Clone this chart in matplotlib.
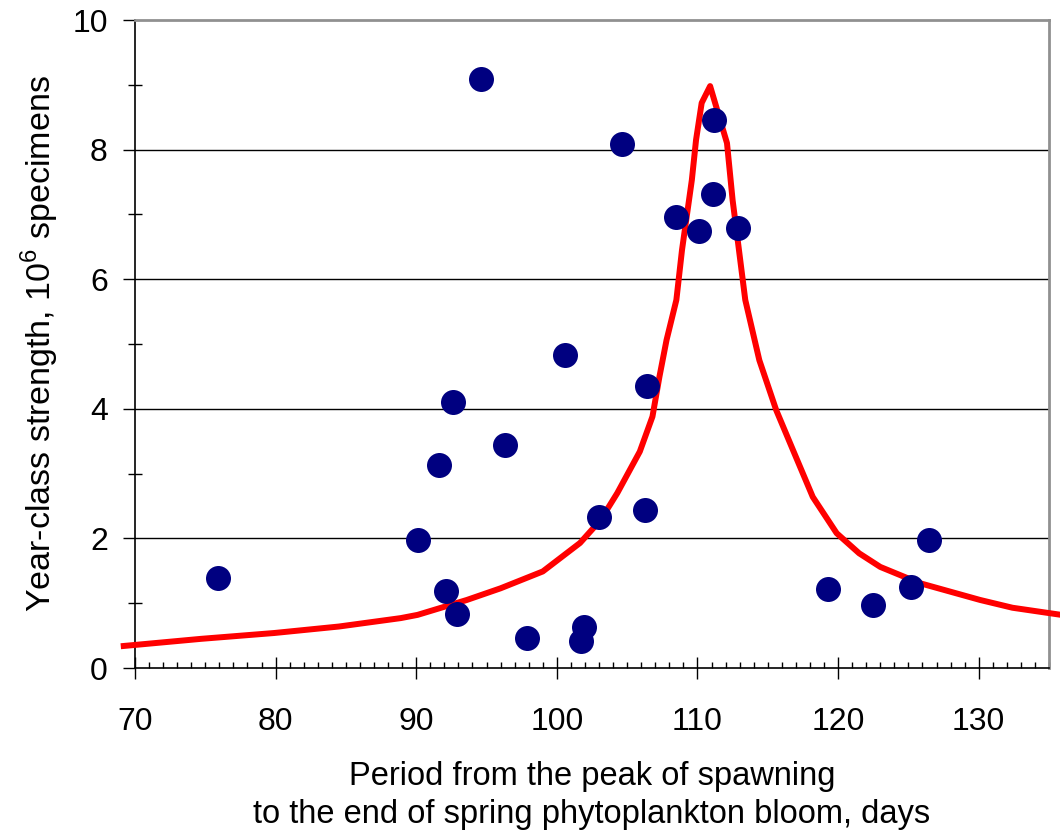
import matplotlib
matplotlib.use('Agg')
import matplotlib.pyplot as plt
from matplotlib.ticker import MultipleLocator

plt.rcParams['font.family'] = ['Liberation Sans', 'DejaVu Sans']
plt.rcParams['mathtext.fontset'] = 'custom'
plt.rcParams['mathtext.rm'] = 'Liberation Sans'

# observed year-class strength (points)
days = [75.9, 94.6, 90.1, 91.6, 92.6, 92.1, 92.9, 96.3, 97.9, 100.6, 101.7, 101.9,
        103.0, 104.6, 106.3, 106.4, 108.5, 110.1, 111.1, 111.2, 112.9, 119.3,
        122.5, 125.2, 126.5]
strength = [1.39, 9.09, 1.98, 3.13, 4.10, 1.19, 0.83, 3.44, 0.46, 4.83, 0.42, 0.63,
            2.33, 8.09, 2.44, 4.35, 6.96, 6.74, 7.31, 8.46, 6.79, 1.22,
            0.97, 1.25, 1.98]

# fitted curve
curve_x = [69.2, 74.7, 79.9, 84.5, 88.9, 90.1, 93.6, 96.0, 99.0, 101.65, 103.1, 104.3,
           105.9, 106.8, 107.3, 107.8, 108.5, 108.9, 109.6, 109.9, 110.3, 110.9,
           112.1, 112.5, 112.8, 113.4, 114.4, 115.6, 116.8, 118.2, 119.9, 121.5,
           123.0, 125.8, 130.1, 132.4, 136.5]
curve_y = [0.34, 0.45, 0.54, 0.64, 0.77, 0.82, 1.05, 1.23, 1.49, 1.93, 2.28, 2.70,
           3.34, 3.88, 4.50, 5.06, 5.68, 6.45, 7.53, 8.15, 8.72, 8.98,
           8.10, 7.22, 6.71, 5.68, 4.75, 3.98, 3.36, 2.64, 2.08, 1.77,
           1.56, 1.31, 1.05, 0.93, 0.80]

fig = plt.figure(figsize=(10.6, 8.36), dpi=100)
ax = fig.add_axes([135/1060, 168/836, (1049-135)/1060, (668-20)/836])

ax.set_xlim(70, 135)
ax.set_ylim(0, 10)

for g in [2, 4, 6, 8]:
    ax.axhline(g, color='black', lw=1, zorder=1)

ax.plot(curve_x, curve_y, color='#ff0000', lw=4.3, clip_on=False, zorder=3)
ax.plot(days, strength, 'o', color='#000080', markersize=18, markeredgewidth=0, zorder=4)

ax.xaxis.set_major_locator(MultipleLocator(10))
ax.xaxis.set_minor_locator(MultipleLocator(1))
ax.yaxis.set_major_locator(MultipleLocator(2))
ax.yaxis.set_minor_locator(MultipleLocator(1))

ax.tick_params(axis='x', which='major', direction='inout', length=16.5, width=1, labelsize=23, pad=20)
ax.tick_params(axis='x', which='minor', direction='in', length=4.3, width=1)
ax.tick_params(axis='y', which='major', direction='out', length=8.6, width=1, labelsize=23, pad=11)
ax.tick_params(axis='y', which='minor', direction='inout', length=10, width=1)

for s in ['top', 'right']:
    ax.spines[s].set_color('#909090')
    ax.spines[s].set_linewidth(2)
for s in ['left', 'bottom']:
    ax.spines[s].set_color('black')
    ax.spines[s].set_linewidth(1.2)

ax.set_xlabel('Period from the peak of spawning\nto the end of spring phytoplankton bloom, days',
              fontsize=23.5, labelpad=17, linespacing=1.3)
ax.set_ylabel('Year-class strength, 10$^6$ specimens', fontsize=24.5, labelpad=8)

fig.savefig('out.png', dpi=100)
